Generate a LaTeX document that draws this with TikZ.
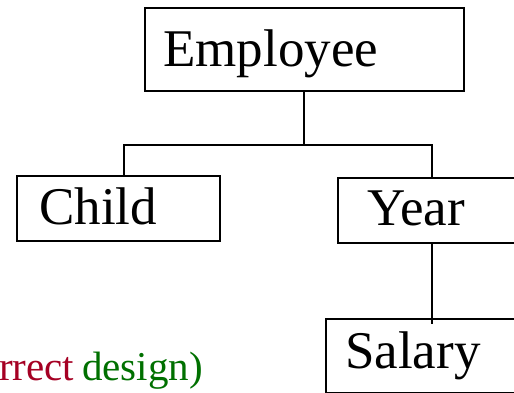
\documentclass[tikz,border=0pt]{standalone}
\usepackage{fontspec}
\setmainfont{Liberation Serif}
\definecolor{wrongred}{RGB}{165,0,35}
\definecolor{rightgreen}{RGB}{0,112,0}
\begin{document}
\begin{tikzpicture}[x=1pt,y=-1pt,
  box/.style={draw=black,line width=1.8pt,rectangle,inner sep=0pt},
  label/.style={anchor=base west,inner sep=0pt,font=\fontsize{53}{60}\selectfont},
  note/.style={anchor=base west,inner sep=0pt,font=\fontsize{41}{46}\selectfont},
  link/.style={line width=1.8pt}]
\useasboundingbox (0,0) rectangle (514,393);

% entity boxes
\node[box,minimum width=319pt,minimum height=83pt] (emp) at (304.5,49.5) {};
\node[box,minimum width=203pt,minimum height=65pt] (child) at (118.5,208.5) {};
\node[box,minimum width=200pt,minimum height=65pt] (year) at (438,210.5) {};
\node[box,minimum width=210pt,minimum height=74pt] (sal) at (431,356) {};

% box captions
\node[label] (empt) at (163,67) {Employee};
\node[label] (childt) at (39,224) {Child};
\node[label] (yeart) at (367,225) {Year};
\node[label] (salt) at (345,368) {Salary};

% hierarchy connectors
\coordinate (j) at (304,145);
\coordinate (cl) at (124,145);
\coordinate (yr) at (432,145);
\coordinate (sj) at (432,324);
\draw[link] (j |- emp.south) -- (j);
\draw[link] (cl |- child.north) -- (cl) -- (yr) -- (yr |- year.north);
\draw[link] (yr |- year.south) -- (sj);

% annotation
\node[note,text=wrongred] (n1) at (-1,380) {rrect};
\node[note,text=rightgreen] (n2) at (82,380) {design)};
\end{tikzpicture}
\end{document}
